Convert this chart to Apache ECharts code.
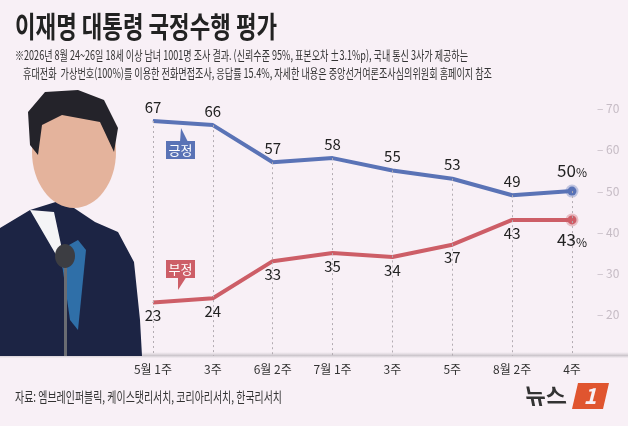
<!DOCTYPE html>
<html><head><meta charset="utf-8">
<script src="https://cdn.jsdelivr.net/npm/echarts@6/dist/echarts.min.js"></script>
<style>html,body{margin:0;padding:0;background:#f8f0f6;}#c{width:628px;height:426px;}</style>
</head><body><div id="c"></div>
<script>
const categories = ['5월 1주','3주','6월 2주','7월 1주','3주','5주','8월 2주','4주'];
const positive = [67,66,57,58,55,53,49,50];
const negative = [23,24,33,35,34,37,43,43];
const yTicks = [20,30,40,50,60,70];
const titleText = '이재명 대통령 국정수행 평가';
const subLine1 = '※2026년 8월 24~26일 18세 이상 남녀 1001명 조사 결과. (신뢰수준 95%, 표본오차 ±3.1%p), 국내 통신 3사가 제공하는';
const subLine2 = '휴대전화  가상번호(100%)를 이용한 전화면접조사, 응답률 15.4%, 자세한 내용은 중앙선거여론조사심의위원회 홈페이지 참조';
const sourceText = '자료: 엠브레인퍼블릭, 케이스탯리서치, 코리아리서치, 한국리서치';

const FONT = '"Noto Sans CJK KR","Noto Sans",sans-serif';
const BLUE = '#5a73b6', RED = '#cd5e67';
const last = positive.length - 1;
const yMin = 10, yMax = 75;

const cv = document.createElement('canvas').getContext('2d');
function fit(text, size, weight, target){
  cv.font = weight + ' ' + size + 'px ' + FONT;
  return target / cv.measureText(text).width;
}

function labelFmt(p){
  return p.dataIndex === last ? '{b|' + p.value + '}{p|%}' : '{n|' + p.value + '}';
}
const rich = {
  n:{fontSize:15,color:'#222',fontFamily:FONT},
  b:{fontSize:17,color:'#222',fontFamily:FONT},
  p:{fontSize:12,color:'#222',fontFamily:FONT,padding:[4,0,0,0]}
};
function pts(arr,color,halo){
  return arr.map((v,i)=> i===last
    ? {value:v,symbol:'circle',symbolSize:9,itemStyle:{color:color,borderColor:halo,borderWidth:4}}
    : {value:v,symbol:'circle',symbolSize:1,itemStyle:{color:color}});
}

const chart = echarts.init(document.getElementById('c'));
const tS = fit(titleText, 28, 'bold', 253);
const s1 = fit(subLine1, 13, 'normal', 453);
const s2 = fit(subLine2, 13, 'normal', 469);
const sS = fit(sourceText, 14, 'normal', 267);

chart.setOption({
  backgroundColor:'#f8f0f6',
  animation:false,
  grid:{left:153,right:56,top:88,bottom:70},
  xAxis:{type:'category',data:categories,boundaryGap:false,
    axisLine:{show:false},axisTick:{show:false},splitLine:{show:false},
    axisLabel:{color:'#333',fontSize:12,margin:7,fontFamily:FONT}},
  yAxis:{type:'value',position:'right',min:yMin,max:yMax,interval:10,
    axisLine:{show:false},axisTick:{show:false},splitLine:{show:false},
    axisLabel:{color:'#c6bcc5',fontSize:12,margin:25,fontFamily:FONT,
      formatter:v=> yTicks.indexOf(v)>=0 ? '– '+v : ''}},
  series:[
    {type:'line',data:[],z:1,silent:true,
      markLine:{silent:true,symbol:'none',label:{show:false},
        lineStyle:{type:[2,3],color:'#b3acb2',width:1},
        data:positive.map((v,i)=>[{coord:[i,v]},{coord:[i,yMin]}])}},
    {name:'긍정',type:'line',z:3,data:pts(positive,BLUE,'rgba(90,115,182,0.35)'),
      lineStyle:{color:BLUE,width:4},itemStyle:{color:BLUE},
      label:{show:true,position:'top',distance:6,formatter:labelFmt,rich:rich}},
    {name:'부정',type:'line',z:3,data:pts(negative,RED,'rgba(205,94,103,0.35)'),
      lineStyle:{color:RED,width:4},itemStyle:{color:RED},
      label:{show:true,position:'bottom',distance:5,formatter:labelFmt,rich:rich}}
  ],
  graphic:[
    {type:'rect',z:-1,shape:{x:0,y:352,width:628,height:6},
      style:{fill:new echarts.graphic.LinearGradient(0,0,0,1,[{offset:0,color:'rgba(200,195,200,0)'},{offset:0.6,color:'rgba(185,180,186,0.7)'},{offset:1,color:'rgba(230,225,230,0.3)'}])}},
    // stylized portrait placeholder
    {type:'group',z:0,children:[
      {type:'polygon',shape:{points:[[0,228],[30,210],[62,200],[95,222],[118,232],[134,262],[140,320],[142,356],[0,356]]},style:{fill:'#1c2444'}},
      {type:'polygon',shape:{points:[[30,210],[54,212],[66,268],[72,300],[62,265]]},style:{fill:'#f4f4f6'}},
      {type:'polygon',shape:{points:[[60,250],[78,240],[86,250],[78,330],[70,320]]},style:{fill:'#2f6fa8'}},
      {type:'ellipse',shape:{cx:74,cy:152,rx:42,ry:56},style:{fill:'#e4b39c'}},
      {type:'polygon',shape:{points:[[30,145],[28,112],[45,92],[78,90],[104,100],[118,128],[114,152],[100,122],[62,115],[42,125],[38,155]]},style:{fill:'#24232a'}},
      {type:'rect',shape:{x:64,y:252,width:3,height:104},style:{fill:'#6a6c72'}},
      {type:'ellipse',shape:{cx:65,cy:256,rx:10,ry:12},style:{fill:'#3c3d42'}}
    ]},
    {type:'text',left:15,top:12,z:10,scaleX:tS,style:{text:titleText,fontSize:29,fontWeight:'bold',fill:'#222',fontFamily:FONT}},
    {type:'text',left:15,top:49,z:10,scaleX:s1,style:{text:subLine1,fontSize:13,fill:'#333',fontFamily:FONT}},
    {type:'text',left:23,top:67,z:10,scaleX:s2,style:{text:subLine2,fontSize:13,fill:'#333',fontFamily:FONT}},
    {type:'text',left:15,top:390,z:10,scaleX:sS,style:{text:sourceText,fontSize:14,fill:'#333',fontFamily:FONT}},
    // callouts
    {type:'group',z:10,children:[
      {type:'polygon',shape:{points:[[180,142],[188,142],[181,128]]},style:{fill:BLUE}},
      {type:'rect',shape:{x:166,y:141,width:29,height:18},style:{fill:BLUE}},
      {type:'text',x:180.5,y:150,style:{text:'긍정',fill:'#fff',fontSize:13,fontFamily:FONT,align:'center',verticalAlign:'middle'}},
      {type:'polygon',shape:{points:[[178,276],[187,276],[178,290]]},style:{fill:RED}},
      {type:'rect',shape:{x:166,y:260,width:29,height:18},style:{fill:RED}},
      {type:'text',x:180.5,y:269,style:{text:'부정',fill:'#fff',fontSize:13,fontFamily:FONT,align:'center',verticalAlign:'middle'}}
    ]},
    // logo
    {type:'group',z:10,children:[
      {type:'text',x:525,y:396,skewX:0.2,style:{text:'뉴스',fontSize:22,fontWeight:'bold',fill:'#333',fontFamily:FONT,verticalAlign:'middle'}},
      {type:'polygon',shape:{points:[[578,383],[609,383],[603,409],[572,409]]},style:{fill:'#e0552f'}},
      {type:'text',x:590,y:396,style:{text:'1',fontSize:22,fontWeight:'bold',fontStyle:'italic',fill:'#f8f0f6',fontFamily:FONT,align:'center',verticalAlign:'middle'}}
    ]}
  ]
});
</script></body></html>
